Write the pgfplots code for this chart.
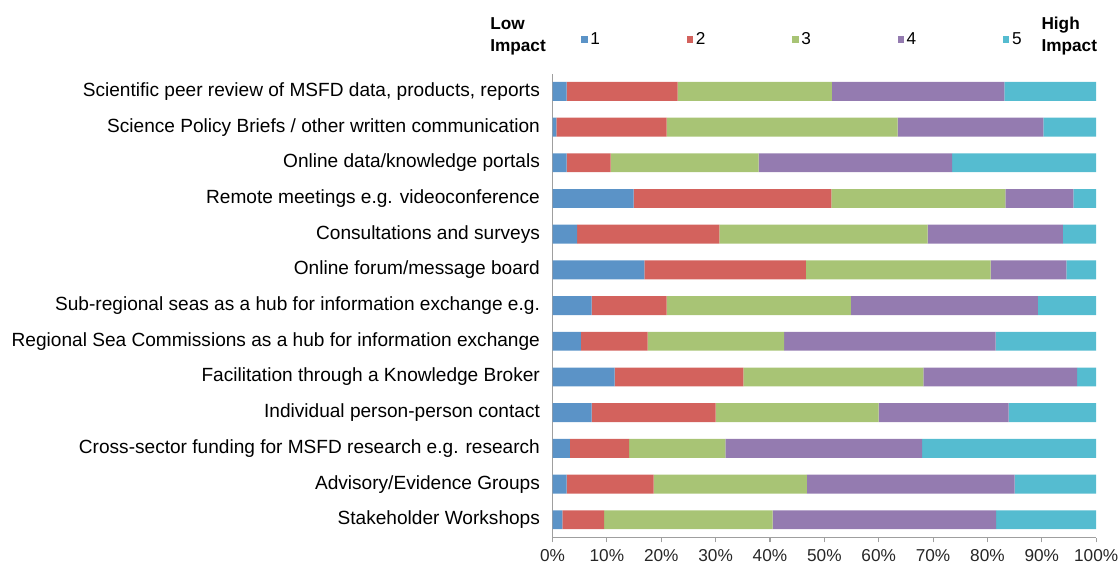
\documentclass[border=0pt]{standalone}
\usepackage{fontspec}
\setmainfont{Liberation Sans}
\usepackage{pgfplots}
\pgfplotsset{compat=1.18}
\usepackage{pgfplotstable}

\definecolor{c1}{HTML}{5B93C7}
\definecolor{c2}{HTML}{D3625D}
\definecolor{c3}{HTML}{A8C475}
\definecolor{c4}{HTML}{947BB0}
\definecolor{c5}{HTML}{55BCD0}

% share of answers per impact score (1 = low ... 5 = high), top row at y=12
\pgfplotstableread{
y  s1   s2   s3   s4   s5
12 2.6  20.4 28.4 31.7 16.9
11 0.7  20.3 42.5 26.8 9.7
10 2.6  8.1  27.2 35.6 26.5
9  14.9 36.4 32.0 12.5 4.2
8  4.5  26.2 38.3 24.9 6.1
7  16.9 29.7 34.0 13.9 5.5
6  7.2  13.8 33.9 34.4 10.7
5  5.2  12.3 25.1 38.9 18.5
4  11.4 23.7 33.1 28.3 3.5
3  7.2  22.8 30.0 23.9 16.1
2  3.2  10.9 17.7 36.2 32.0
1  2.6  16.0 28.2 38.2 15.0
0  1.8  7.7  31.0 41.1 18.4
}\impact

\begin{document}
\begin{tikzpicture}
\begin{axis}[
    xbar stacked,
    bar width=0.53,
    scale only axis,
    width=410.25pt,
    height=350.25pt,
    xmin=0, xmax=100,
    ymin=-0.5, ymax=12.5,
    xtick={0,10,...,100},
    xticklabels={0\%,10\%,20\%,30\%,40\%,50\%,60\%,70\%,80\%,90\%,100\%},
    ytick={0,...,12},
    yticklabels={Stakeholder Workshops,
        Advisory/Evidence Groups,
        Cross-sector funding for MSFD research e.g. research,
        Individual person-person contact,
        Facilitation through a Knowledge Broker,
        Regional Sea Commissions as a hub for information exchange,
        Sub-regional seas as a hub for information exchange e.g.,
        Online forum/message board,
        Consultations and surveys,
        Remote meetings e.g. videoconference,
        Online data/knowledge portals,
        Science Policy Briefs / other written communication,
        {Scientific peer review of MSFD data, products, reports}},
    /pgf/number format/assume math mode=true,
    axis x line*=bottom,
    axis y line*=left,
    axis line style={draw=gray!75, line width=0.8pt},
    tick align=outside,
    xtick style={draw=gray!75, line width=0.8pt},
    major tick length=3.5pt,
    ytick style={draw=none},
    y tick label style={font=\fontsize{14.4}{16}\selectfont, xshift=-2.5pt},
    x tick label style={font=\fontsize{13}{15}\selectfont, color=black!85, yshift=-2pt},
    legend columns=5,
    legend style={draw=none, fill=none, font=\fontsize{13}{15}\selectfont,
        at={(axis description cs:0.4605,1.073)}, anchor=center,
        /tikz/every even column/.append style={column sep=63.5pt}},
    legend image code/.code={\fill[#1] (0pt,-2.4pt) rectangle (4.8pt,2.4pt);},
]
\addplot[fill=c1, draw=none] table[x=s1, y=y] {\impact};
\addplot[fill=c2, draw=none] table[x=s2, y=y] {\impact};
\addplot[fill=c3, draw=none] table[x=s3, y=y] {\impact};
\addplot[fill=c4, draw=none] table[x=s4, y=y] {\impact};
\addplot[fill=c5, draw=none] table[x=s5, y=y] {\impact};
\legend{1,2,3,4,5}
\coordinate (lowpos) at (axis description cs:-0.115,1.081);
\coordinate (highpos) at (axis description cs:0.899,1.081);
\coordinate (ll) at (axis description cs:0,0);
\coordinate (ur) at (axis description cs:1,1);
\end{axis}
\node[anchor=west, align=left, inner sep=0pt, font=\bfseries\fontsize{13}{16.5}\selectfont]
    at (lowpos) {Low\\Impact};
\node[anchor=west, align=left, inner sep=0pt, font=\bfseries\fontsize{13}{16.5}\selectfont]
    at (highpos) {High\\Impact};
\pgfresetboundingbox
\path[use as bounding box] ([xshift=-417pt,yshift=-21.75pt]ll) rectangle ([xshift=18pt,yshift=55.5pt]ur);
\end{tikzpicture}
\end{document}
